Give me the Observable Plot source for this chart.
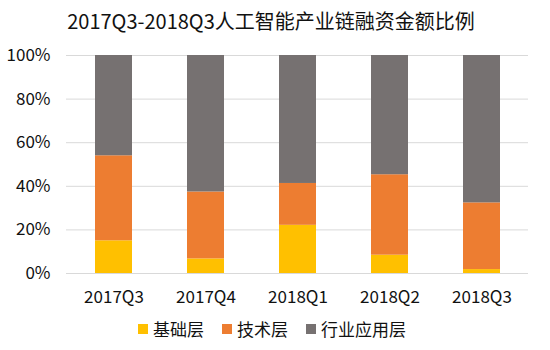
<!DOCTYPE html>
<html>
<head>
<meta charset="utf-8">
<script src="https://cdn.jsdelivr.net/npm/d3@7"></script>
<script src="https://cdn.jsdelivr.net/npm/@observablehq/plot@0.6"></script>
<style>
  html, body { margin: 0; padding: 0; background: #fff; }
  body { width: 550px; height: 350px; font-family: "Noto Sans CJK SC", "Noto Sans", sans-serif; color: #111; }
  #title { height: 42px; line-height: 42px; text-align: center; font-size: 20px; padding-right: 8px; }
  #legend { display: flex; justify-content: center; align-items: center; height: 33px; font-size: 17px; padding-right: 6px; }
  .item { display: flex; align-items: center; margin: 0 9px; }
  .sw { width: 10px; height: 10px; margin-right: 5px; }
</style>
</head>
<body>
<div id="title">2017Q3-2018Q3人工智能产业链融资金额比例</div>
<div id="chart"></div>
<div id="legend"></div>
<script>
const quarters = ["2017Q3", "2017Q4", "2018Q1", "2018Q2", "2018Q3"];
const seriesNames = ["基础层", "技术层", "行业应用层"];
const seriesColors = ["#FFC000", "#ED7D31", "#767171"];
const baseLayer = [15, 6.7, 22.1, 8.4, 1.8];
const techLayer = [39, 30.7, 19.2, 36.9, 30.6];
const appLayer = [46, 62.6, 58.7, 54.7, 67.6];
const yTicks = [0, 20, 40, 60, 80, 100];

const seriesValues = [baseLayer, techLayer, appLayer];
const rows = [];
seriesNames.forEach((s, i) => quarters.forEach((q, j) => rows.push({quarter: q, series: s, value: seriesValues[i][j]})));

const chart = Plot.plot({
  width: 550,
  height: 270,
  marginTop: 13,
  marginBottom: 39,
  marginLeft: 66,
  marginRight: 22,
  style: {fontFamily: '"Noto Sans CJK SC", "Noto Sans", sans-serif', fontSize: "17px", color: "#111", background: "#fff"},
  x: {domain: quarters, paddingInner: 0.6, paddingOuter: 0.3, label: null},
  y: {domain: [0, 100], label: null},
  color: {domain: seriesNames, range: seriesColors},
  marks: [
    Plot.ruleY(yTicks, {stroke: "#D9D9D9", strokeWidth: 1}),
    Plot.barY(rows, Plot.stackY({order: seriesNames, x: "quarter", y: "value", fill: "series"})),
    Plot.axisY({ticks: yTicks, tickSize: 0, tickPadding: 16, tickFormat: d => d + "%", fontSize: 17, label: null}),
    Plot.axisX({tickSize: 0, tickPadding: 17, fontSize: 17, label: null})
  ]
});
document.getElementById("chart").appendChild(chart);

const legend = document.getElementById("legend");
seriesNames.forEach((s, i) => {
  const it = document.createElement("div");
  it.className = "item";
  const sw = document.createElement("div");
  sw.className = "sw";
  sw.style.background = seriesColors[i];
  const tx = document.createElement("span");
  tx.textContent = s;
  it.appendChild(sw); it.appendChild(tx);
  legend.appendChild(it);
});
</script>
</body>
</html>
